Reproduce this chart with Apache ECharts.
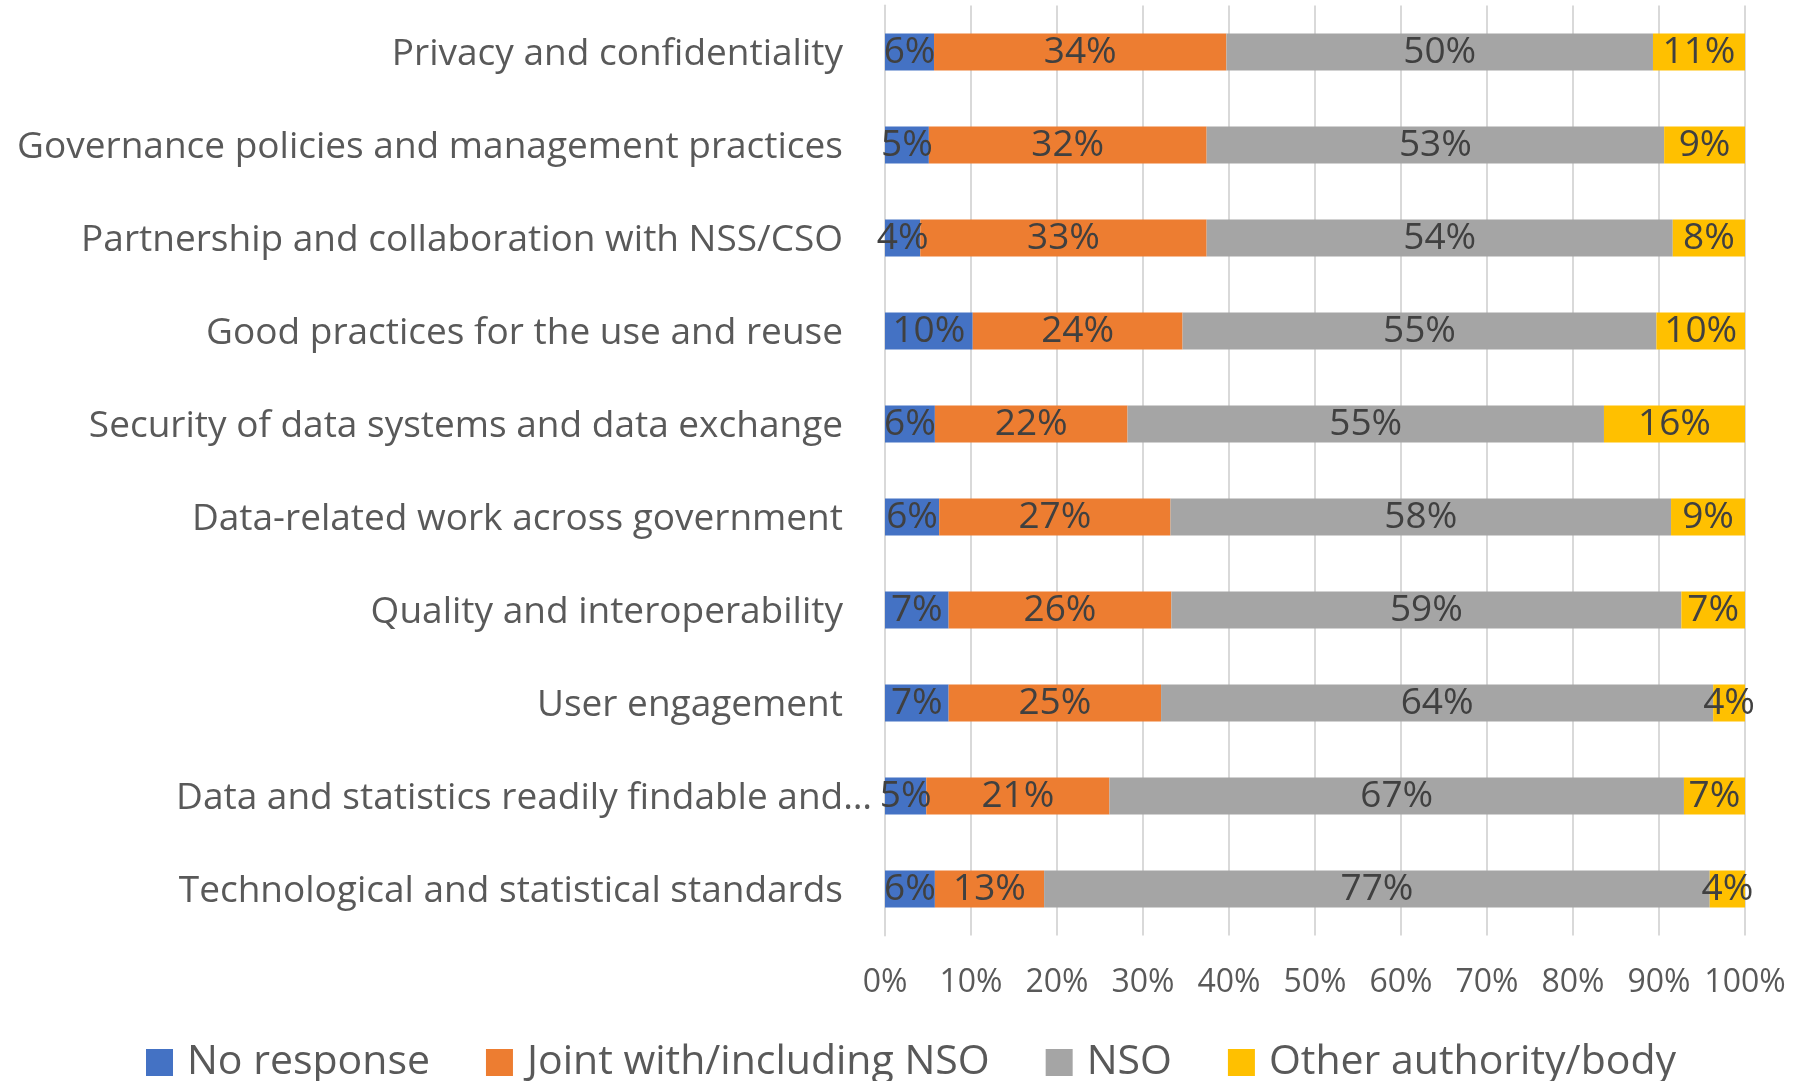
<!DOCTYPE html>
<html>
<head>
<meta charset="utf-8">
<script src="https://cdn.jsdelivr.net/npm/echarts@6/dist/echarts.min.js"></script>
<style>
  html, body { margin: 0; padding: 0; background: #ffffff; }
  #chart { width: 1795px; height: 1081px; }
</style>
</head>
<body>
<div id="chart"></div>
<script>
const categories = [
  'Privacy and confidentiality',
  'Governance policies and management practices',
  'Partnership and collaboration with NSS/CSO',
  'Good practices for the use and reuse',
  'Security of data systems and data exchange',
  'Data-related work across government',
  'Quality and interoperability',
  'User engagement',
  'Data and statistics readily findable and…',
  'Technological and statistical standards'
];
const seriesNames = ['No response', 'Joint with/including NSO', 'NSO', 'Other authority/body'];
const noResponse = [5.7, 5.1, 4.1, 10.2, 5.8, 6.3, 7.4, 7.4, 4.8, 5.8];
const jointNSO   = [34.0, 32.3, 33.3, 24.4, 22.4, 26.9, 25.9, 24.7, 21.3, 12.7];
const nso        = [49.6, 53.2, 54.2, 55.1, 55.4, 58.2, 59.3, 64.2, 66.8, 77.4];
const otherBody  = [10.7, 9.4, 8.4, 10.3, 16.4, 8.6, 7.4, 3.7, 7.1, 4.1];
const xTicks = [0, 10, 20, 30, 40, 50, 60, 70, 80, 90, 100];

const colors = ['#4472C4', '#ED7D31', '#A5A5A5', '#FFC000'];
const FONT = '"Open Sans", "Liberation Sans", sans-serif';
const seriesData = [noResponse, jointNSO, nso, otherBody];

const chart = echarts.init(document.getElementById('chart'));
chart.setOption({
  animation: false,
  backgroundColor: '#ffffff',
  textStyle: { fontFamily: FONT },
  grid: { left: 885, right: 50, top: 5.5, bottom: 145.5, containLabel: false },
  legend: {
    data: seriesNames,
    left: 141,
    top: 1037,
    icon: 'rect',
    itemWidth: 27,
    itemHeight: 27,
    itemGap: 56,
    textStyle: { fontFamily: FONT, fontSize: 41, color: '#595959', padding: [0, 0, 0, 9] }
  },
  xAxis: {
    type: 'value',
    min: xTicks[0],
    max: xTicks[xTicks.length - 1],
    interval: 10,
    axisLine: { show: false },
    axisTick: { show: false },
    splitLine: { show: true, lineStyle: { color: '#d9d9d9', width: 2 } },
    axisLabel: {
      fontFamily: FONT, fontSize: 32, color: '#595959', margin: 31,
      formatter: v => v + '%'
    }
  },
  yAxis: {
    type: 'category',
    inverse: true,
    data: categories,
    axisLine: { show: true, lineStyle: { color: '#d9d9d9', width: 2 } },
    axisTick: { show: false },
    axisLabel: {
      margin: 13,
      fontFamily: FONT, fontSize: 37, color: '#595959',
      formatter: (v, i) => (v.endsWith('…') ? '{t|' + v + '}' : '{n|' + v + '}'),
      rich: {
        n: { fontFamily: FONT, fontSize: 37, color: '#595959', padding: [5, 29, 0, 0] },
        t: { fontFamily: FONT, fontSize: 37, color: '#595959', padding: [5, 0, 0, 0] }
      }
    }
  },
  series: seriesNames.map((name, k) => ({
    name: name,
    type: 'bar',
    stack: 'total',
    barWidth: 37,
    data: seriesData[k],
    itemStyle: { color: colors[k] },
    label: {
      show: true,
      position: 'inside',
      fontFamily: FONT,
      fontSize: 37,
      color: '#404040',
      padding: [4, 0, 0, 0],
      formatter: p => Math.round(p.value) + '%'
    }
  }))
});
</script>
</body>
</html>
